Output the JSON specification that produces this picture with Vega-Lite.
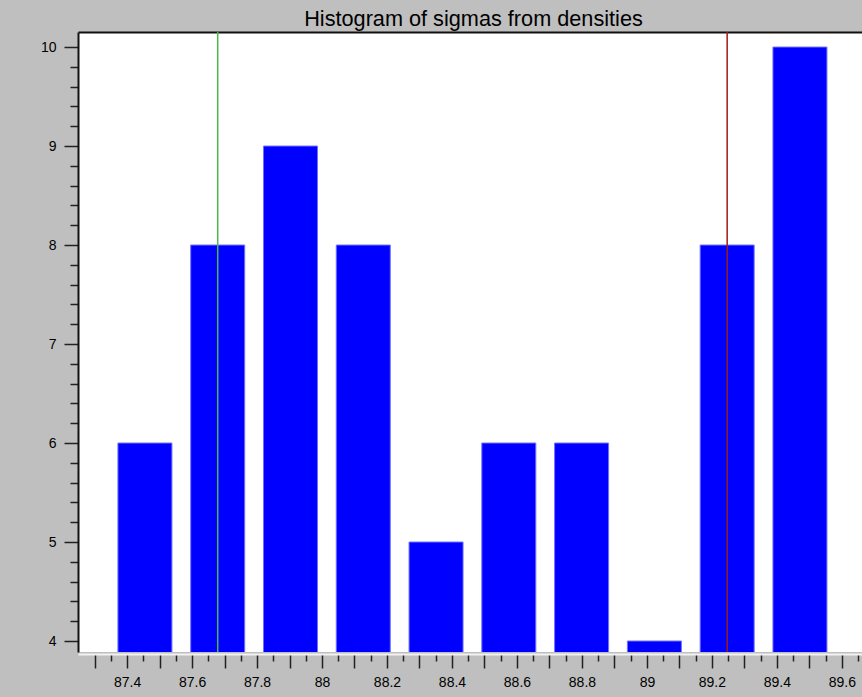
{
  "$schema": "https://vega.github.io/schema/vega-lite/v6.json",
  "width": 784,
  "height": 620,
  "autosize": {"type": "none"},
  "padding": {"left": 78, "top": 32, "right": 0, "bottom": 45},
  "background": "#bfbfbf",
  "title": {
    "text": "Histogram of sigmas from densities",
    "font": "Liberation Sans",
    "fontSize": 21.7,
    "fontWeight": "normal",
    "color": "black",
    "anchor": "middle",
    "frame": "group",
    "offset": 1,
    "dx": 3.5
  },
  "config": {"view": {"fill": "white", "stroke": null}},
  "datasets": {
    "bars": [
      {"sigma": 87.455, "count": 6},
      {"sigma": 87.679, "count": 8},
      {"sigma": 87.903, "count": 9},
      {"sigma": 88.127, "count": 8},
      {"sigma": 88.351, "count": 5},
      {"sigma": 88.575, "count": 6},
      {"sigma": 88.799, "count": 6},
      {"sigma": 89.023, "count": 4},
      {"sigma": 89.247, "count": 8},
      {"sigma": 89.471, "count": 10}
    ],
    "lines": [
      {"sigma": 87.679, "kind": "green"},
      {"sigma": 89.247, "kind": "red"}
    ]
  },
  "layer": [
    {
      "data": {"name": "bars"},
      "mark": {"type": "bar", "size": 54, "color": "#0000ff", "stroke": "#7070ff", "strokeWidth": 1, "clip": true},
      "encoding": {
        "x": {
          "field": "sigma",
          "type": "quantitative",
          "scale": {"domain": [87.249, 89.662], "nice": false, "zero": false, "padding": 0},
          "axis": {
            "orient": "bottom",
            "title": null,
            "offset": 2,
            "values": [87.3,87.35,87.4,87.45,87.5,87.55,87.6,87.65,87.7,87.75,87.8,87.85,87.9,87.95,88,88.05,88.1,88.15,88.2,88.25,88.3,88.35,88.4,88.45,88.5,88.55,88.6,88.65,88.7,88.75,88.8,88.85,88.9,88.95,89,89.05,89.1,89.15,89.2,89.25,89.3,89.35,89.4,89.45,89.5,89.55,89.6,89.65],
            "domain": true,
            "domainColor": "#f2f2f2",
            "domainWidth": 2,
            "tickColor": "#222222",
            "tickWidth": 1.5,
            "tickSize": {"condition": {"test": "abs(datum.value*10 - round(datum.value*10)) < 0.01", "value": 14}, "value": 7},
            "labelExpr": "abs(datum.value*5 - round(datum.value*5)) < 0.01 ? toString(round(datum.value*10)/10) : ''",
            "labelOverlap": false,
            "labelFlush": false,
            "labelBound": false,
            "labelFont": "Liberation Sans",
            "labelFontSize": 14,
            "labelColor": "black",
            "labelPadding": 7,
            "grid": false
          }
        },
        "y": {
          "field": "count",
          "type": "quantitative",
          "scale": {"domain": [3.889, 10.152], "nice": false, "zero": false},
          "axis": {
            "title": null,
            "values": [4,4.2,4.4,4.6,4.8,5,5.2,5.4,5.6,5.8,6,6.2,6.4,6.6,6.8,7,7.2,7.4,7.6,7.8,8,8.2,8.4,8.6,8.8,9,9.2,9.4,9.6,9.8,10],
            "domain": true,
            "domainColor": "#111111",
            "domainWidth": 2,
            "tickColor": "#222222",
            "tickWidth": 1.5,
            "tickSize": {"condition": {"test": "abs(datum.value - round(datum.value)) < 0.01", "value": 14}, "value": 8},
            "labelExpr": "abs(datum.value - round(datum.value)) < 0.01 ? toString(round(datum.value)) : ''",
            "labelOverlap": false,
            "labelFlush": false,
            "labelBound": false,
            "labelFont": "Liberation Sans",
            "labelFontSize": 14,
            "labelColor": "black",
            "labelPadding": 8,
            "grid": false
          }
        },
        "y2": {"datum": 3.8}
      }
    },
    {
      "data": {"name": "lines"},
      "mark": {"type": "rule", "strokeWidth": 1.5},
      "encoding": {
        "x": {
          "field": "sigma",
          "type": "quantitative",
          "axis": {"orient": "top", "title": null, "domain": true, "domainColor": "#111111", "domainWidth": 2, "ticks": false, "labels": false, "grid": false}
        },
        "color": {
          "field": "kind",
          "type": "nominal",
          "scale": {"domain": ["green", "red"], "range": ["#4cb84c", "#9b1b1b"]},
          "legend": null
        }
      }
    }
  ],
  "resolve": {"axis": {"x": "independent"}}
}
